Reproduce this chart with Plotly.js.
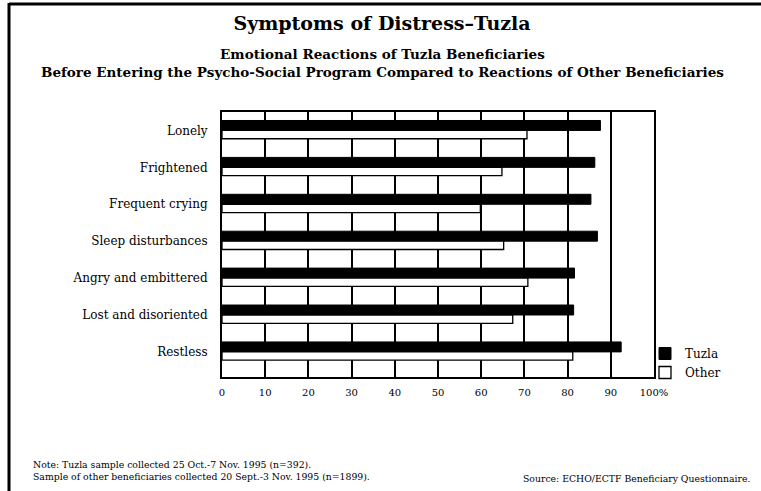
<!DOCTYPE html>
<html>
<head>
<meta charset="utf-8">
<script src="https://cdn.plot.ly/plotly-3.0.1.min.js"></script>
<style>html,body{margin:0;padding:0;background:#fff;}#chart{width:761px;height:491px;}</style>
</head>
<body>
<div id="chart"></div>
<script>
const categories = ["Lonely", "Frightened", "Frequent crying", "Sleep disturbances",
  "Angry and embittered", "Lost and disoriented", "Restless"];
const tuzlaValues = [87.6, 86.3, 85.4, 86.9, 81.6, 81.4, 92.4];
const otherValues = [70.6, 64.8, 59.8, 65.2, 70.8, 67.3, 81.2];
const tickValues = [0, 10, 20, 30, 40, 50, 60, 70, 80, 90, 100];
const tickLabels = ["0", "10", "20", "30", "40", "50", "60", "70", "80", "90", "100%"];

const serif = "DejaVu Serif, Liberation Serif, serif";

const data = [
  {
    type: "bar", orientation: "h", name: "Tuzla",
    y: categories, x: tuzlaValues,
    width: 0.27, offset: -0.27,
    marker: {color: "#000", line: {color: "#000", width: 1}},
    hoverinfo: "x+y"
  },
  {
    type: "bar", orientation: "h", name: "Other",
    y: categories, x: otherValues,
    width: 0.225, offset: 0,
    marker: {color: "#fff", line: {color: "#000", width: 1.3}},
    hoverinfo: "x+y"
  }
];

const layout = {
  width: 761, height: 491,
  margin: {l: 222, r: 107, t: 112, b: 114},
  paper_bgcolor: "#fff", plot_bgcolor: "#fff",
  font: {family: serif, color: "#000"},
  barmode: "overlay",
  showlegend: true,
  legend: {
    x: (645 - 222) / 432, xanchor: "left", y: (377 - 363) / 265, yanchor: "middle",
    traceorder: "normal", font: {size: 12, family: serif},
    itemwidth: 30, bgcolor: "rgba(0,0,0,0)"
  },
  xaxis: {
    range: [0, 100], tickvals: tickValues, ticktext: tickLabels,
    showgrid: true, gridcolor: "#000", gridwidth: 2,
    showline: true, linecolor: "#000", linewidth: 2, mirror: true,
    zeroline: false, ticks: "", ticklabelstandoff: 5,
    tickfont: {size: 10, family: serif}, fixedrange: true
  },
  yaxis: {
    type: "category", range: [6.68, -0.5], autorange: false,
    showgrid: false, zeroline: false,
    showline: true, linecolor: "#000", linewidth: 2, mirror: true,
    ticks: "", ticklabelstandoff: 10,
    tickfont: {size: 12, family: serif}, fixedrange: true
  },
  title: {
    text: "<b>Symptoms of Distress\u2013Tuzla</b>",
    x: 382 / 761, xanchor: "center", y: 1 - 23 / 491, yanchor: "middle",
    xref: "container", yref: "container",
    font: {size: 19, family: serif, color: "#000"}
  },
  annotations: [
    {
      text: "<b>Emotional Reactions of Tuzla Beneficiaries<br>Before Entering the Psycho-Social Program Compared to Reactions of Other Beneficiaries</b>",
      xref: "paper", yref: "paper", x: (382 - 222) / 432, y: (377 - 63) / 265,
      xanchor: "center", yanchor: "middle", showarrow: false,
      font: {size: 13.5, family: serif}, align: "center"
    },
    {
      text: "Note: Tuzla sample collected 25 Oct.-7 Nov. 1995 (n=392).<br>Sample of other beneficiaries collected 20 Sept.-3 Nov. 1995 (n=1899).",
      xref: "paper", yref: "paper", x: (31 - 222) / 432, y: (377 - 470) / 265,
      xanchor: "left", yanchor: "middle", showarrow: false, align: "left",
      font: {size: 9.3, family: serif}
    },
    {
      text: "Source: ECHO/ECTF Beneficiary Questionnaire.",
      xref: "paper", yref: "paper", x: (752 - 222) / 432, y: (377 - 478) / 265,
      xanchor: "right", yanchor: "middle", showarrow: false,
      font: {size: 9.3, family: serif}
    }
  ],
  shapes: [
    {type: "line", xref: "paper", yref: "paper",
     x0: (9 - 222) / 432, x1: (761 - 222) / 432, y0: (377 - 4) / 265, y1: (377 - 4) / 265,
     line: {color: "#000", width: 3}},
    {type: "line", xref: "paper", yref: "paper",
     x0: (9 - 222) / 432, x1: (9 - 222) / 432, y0: (377 - 3) / 265, y1: (377 - 491) / 265,
     line: {color: "#000", width: 3}}
  ]
};

Plotly.newPlot("chart", data, layout, {displayModeBar: false, staticPlot: true});
</script>
</body>
</html>
